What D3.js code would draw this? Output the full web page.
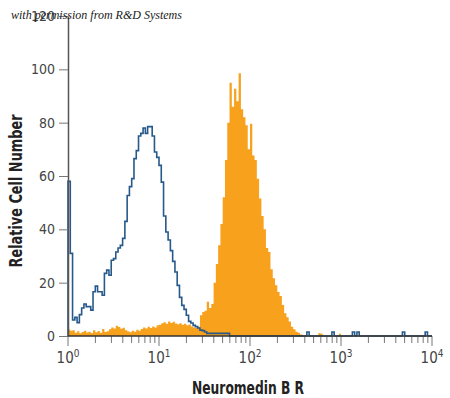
<!DOCTYPE html>
<html>
<head>
<meta charset="utf-8">
<script src="https://cdn.jsdelivr.net/npm/d3@7"></script>
<style>
  body { margin: 0; background: #fff; }
</style>
</head>
<body>
<div id="chart"></div>
<script>
// channel width in decades (160 channels over 10^0..10^4)
const binWidth = 0.025;

// isotype control (blue outline)
const isotype = [
  58, 31, 6, 7, 5, 8, 10.5, 12, 11, 11,
  9.7, 16.6, 18.7, 16.6, 16.6, 15.3, 23.5, 24.7, 22.8, 28.4,
  29, 31.5, 33, 34, 36.6, 43, 52.7, 56, 59, 66.5,
  69.5, 75, 76, 78, 76, 78.5, 78.5, 75, 69, 67,
  64, 57.7, 45, 39, 36, 32, 28, 24, 19, 14.5,
  11.5, 10, 7.8, 5.5, 4.9, 4, 3.5, 3, 2.2, 2,
  1.5, 1, 1, 1, 1, 1, 1, 1, 1, 1,
  1, 0, 0, 0, 0, 0, 0, 0, 0, 0,
  0, 0, 0, 0, 0, 0, 0, 0, 0, 0,
  0, 0, 0, 0, 0, 0, 0, 0, 0, 0,
  0, 0, 0, 0, 0, 1.5, 0, 0, 0, 0,
  0, 0, 0, 0, 0, 0, 1.5, 0, 0, 0,
  0, 0, 0, 0, 0, 1.5, 0, 1.5, 0, 0,
  0, 0, 0, 0, 0, 0, 0, 0, 0, 0,
  0, 0, 0, 0, 0, 0, 0, 1.5, 0, 0,
  0, 0, 0, 0, 0, 0, 0, 1.5, 0, 0
];

// anti-Neuromedin B R stained cells (orange fill)
const stained = [
  2.4, 2, 2.2, 1.2, 1.8, 1.0, 1.5, 2.0, 1.3, 1.6,
  1.1, 2.2, 1.4, 1.9, 1.2, 2.6, 1.5, 1.8, 2.5, 3.2,
  2.8, 3.8, 3.4, 2.7, 3.1, 2.2, 1.8, 1.4, 2.0, 1.6,
  2.3, 2.0, 2.6, 3.2, 2.8, 3.5, 3.0, 3.6, 3.2, 4.0,
  4.2, 4.8, 5.2, 4.6, 5.4, 4.9, 5.3, 4.7, 4.4, 4.8,
  4.2, 4.6, 4.0, 4.3, 3.6, 3.2, 3.0, 3.5, 7.8, 9,
  9.5, 12.8, 10.5, 12, 20, 27, 34, 42, 52, 66,
  80, 95, 86, 92.7, 88, 98.5, 85, 82, 79, 70,
  79.6, 67.7, 66, 59, 51.6, 45, 40, 33, 31.5, 25,
  21.7, 19, 16.5, 15, 11.6, 8.5, 7, 5.4, 3.5, 2.5,
  1.6, 1.2, 0.6, 0.4, 0, 0, 0, 0, 0, 0,
  1, 0.8, 0, 0, 0, 0, 0, 0, 0, 0.8,
  0, 0, 0, 0, 0, 0, 0, 0, 0, 0,
  0, 0, 0, 0, 0, 0, 0, 0, 0, 0,
  0, 0, 0, 0, 0, 0, 0, 0, 0, 0,
  0, 0, 0, 0, 0, 0, 0, 0, 0, 0
];

const yTicks = [0, 20, 40, 60, 80, 100, 120];
const xDecades = [0, 1, 2, 3, 4];
const xTitle = 'Neuromedin B R';
const yTitle = 'Relative Cell Number';
const credit = 'with permission from R&D Systems';

const width = 450, height = 398;
const narrow = '"Liberation Sans Narrow", "DejaVu Sans Condensed", "Arial Narrow", sans-serif';

const x = d3.scaleLog().domain([1, 1e4]).range([68, 432]);
const y = d3.scaleLinear().domain([0, 120]).range([336, 16]);

const svg = d3.select('#chart').append('svg')
    .attr('width', width)
    .attr('height', height)
    .style('display', 'block');

// channel edges -> step points
function steps(counts) {
  const pts = counts.map((v, i) => ({ e: Math.pow(10, i * binWidth), v }));
  pts.push({ e: Math.pow(10, counts.length * binWidth), v: counts[counts.length - 1] });
  return pts;
}

const area = d3.area()
    .curve(d3.curveStepAfter)
    .x(d => x(d.e))
    .y0(y(0))
    .y1(d => y(d.v));

svg.append('path')
    .datum(steps(stained))
    .attr('fill', '#f7a11c')
    .attr('d', area);

const line = d3.line()
    .curve(d3.curveStepAfter)
    .x(d => x(d.e))
    .y(d => y(d.v));

svg.append('path')
    .datum([{ e: 1, v: 0 }].concat(steps(isotype)))
    .attr('fill', 'none')
    .attr('stroke', '#27598a')
    .attr('stroke-width', 1.6)
    .attr('d', line);

// y axis
const yAxis = svg.append('g')
    .attr('transform', `translate(${x(1)},0)`)
    .call(d3.axisLeft(y).tickValues(yTicks).tickSize(9).tickPadding(4).tickSizeOuter(0));
yAxis.select('.domain').attr('stroke', '#555').attr('stroke-width', 1.5);
yAxis.selectAll('.tick line').attr('stroke', '#777');
yAxis.selectAll('.tick text')
    .attr('fill', '#444')
    .style('font-family', narrow)
    .style('font-size', '14px');

// x axis with minor ticks
const minor = [];
xDecades.slice(0, -1).forEach(p => {
  for (let k = 2; k <= 9; k++) minor.push(k * Math.pow(10, p));
});
const xg = svg.append('g').attr('transform', `translate(0,${y(0)})`);
xg.selectAll('line.minor')
  .data(minor)
  .join('line')
    .attr('class', 'minor')
    .attr('x1', d => x(d)).attr('x2', d => x(d))
    .attr('y1', 0).attr('y2', 7)
    .attr('stroke', '#777');
xg.selectAll('line.major')
  .data(xDecades)
  .join('line')
    .attr('class', 'major')
    .attr('x1', d => x(Math.pow(10, d))).attr('x2', d => x(Math.pow(10, d)))
    .attr('y1', 0).attr('y2', 10)
    .attr('stroke', '#777');
xg.append('line')
    .attr('x1', x(1)).attr('x2', x(1e4))
    .attr('stroke', '#333')
    .attr('stroke-width', 1.5);

const lbl = xg.selectAll('text.lbl')
  .data(xDecades)
  .join('text')
    .attr('class', 'lbl')
    .attr('x', d => x(Math.pow(10, d)))
    .attr('y', 27)
    .attr('text-anchor', 'middle')
    .attr('fill', '#444')
    .style('font-family', narrow)
    .style('font-size', '15px');
lbl.append('tspan').text('10');
lbl.append('tspan')
    .attr('dy', -6)
    .style('font-size', '10px')
    .text(d => d);

// titles
svg.append('text')
    .attr('x', 248)
    .attr('y', 394)
    .attr('text-anchor', 'middle')
    .attr('textLength', 112)
    .attr('lengthAdjust', 'spacingAndGlyphs')
    .attr('fill', '#222')
    .style('font-family', narrow)
    .style('font-weight', 'bold')
    .style('font-size', '17px')
    .text(xTitle);

svg.append('text')
    .attr('transform', 'translate(22,191) rotate(-90)')
    .attr('text-anchor', 'middle')
    .attr('textLength', 153)
    .attr('lengthAdjust', 'spacingAndGlyphs')
    .attr('fill', '#222')
    .style('font-family', narrow)
    .style('font-weight', 'bold')
    .style('font-size', '17px')
    .text(yTitle);

svg.append('text')
    .attr('x', 11)
    .attr('y', 19)
    .attr('fill', '#1a1a1a')
    .style('font-family', '"Liberation Serif", serif')
    .style('font-style', 'italic')
    .style('font-size', '12px')
    .text(credit);
</script>
</body>
</html>
